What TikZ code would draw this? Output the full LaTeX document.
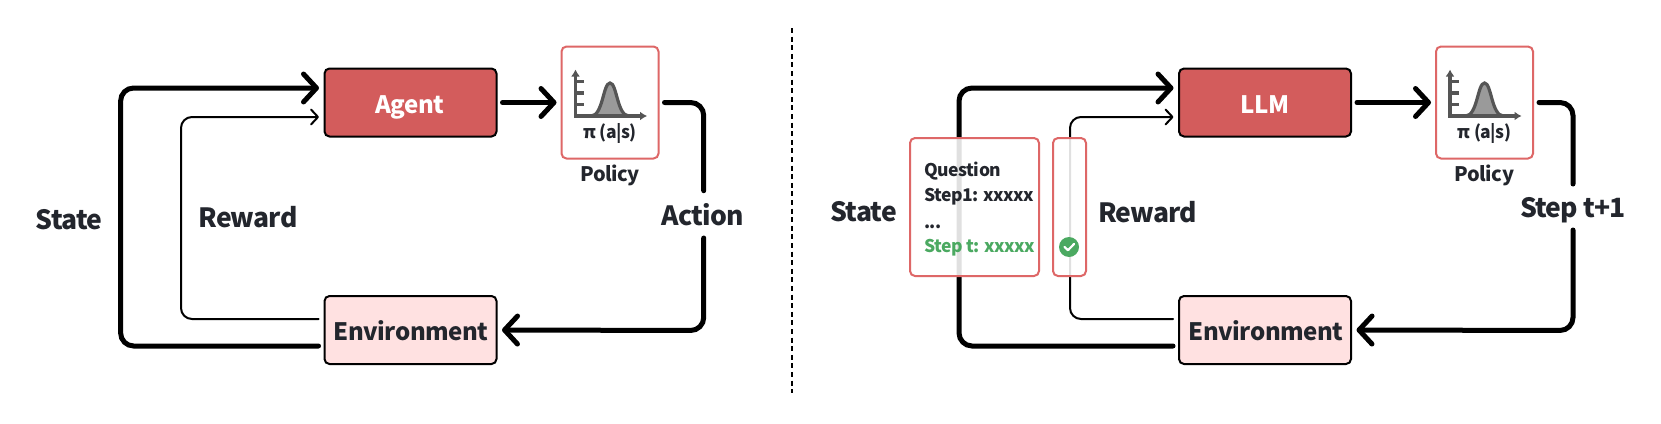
\documentclass[tikz,border=0pt]{standalone}
\usepackage{fontspec}
\setmainfont{Noto Sans CJK SC}
\usetikzlibrary{arrows.meta}
\definecolor{ink}{HTML}{23262D}
\definecolor{redfill}{HTML}{D35C5C}
\definecolor{redline}{HTML}{DE6767}
\definecolor{pinkfill}{HTML}{FFE1E1}
\definecolor{okgreen}{HTML}{4BA961}
\definecolor{iconline}{HTML}{555555}
\definecolor{iconfill}{HTML}{9A9A9A}
\newcommand{\fsz}[2]{\fontsize{#1pt}{#1pt}\selectfont\bfseries\addfontfeature{LetterSpace=#2}}
\tikzset{
  x=1pt,y=-1pt,
  heavy/.style={line width=5pt,line cap=round,black,rounded corners=13pt},
  light/.style={line width=2pt,line cap=round,black,rounded corners=11pt},
  heavyhead/.style={-{Straight Barb[length=13pt,width=28pt,line width=5pt,round]}},
  lighthead/.style={-{Straight Barb[length=7pt,width=15pt,line width=2pt,round]}},
  blockred/.style={draw=black,line width=2pt,rounded corners=5pt,fill=redfill,minimum width=172pt,minimum height=68pt,inner sep=0pt},
  blockpink/.style={draw=black,line width=2pt,rounded corners=5pt,fill=pinkfill,minimum width=172pt,minimum height=68pt,inner sep=0pt},
  polbox/.style={draw=redline,line width=2pt,rounded corners=5pt,fill=white,minimum width=97pt,minimum height=112pt,inner sep=0pt},
  memo/.style={draw=redline,line width=2pt,rounded corners=5pt,fill=white,fill opacity=0.88,inner sep=0pt},
  lab/.style={anchor=base,inner sep=0pt,text=ink,font=\fsz{26.5}{-3}},
  boxtxt/.style={anchor=base,inner sep=0pt,text=ink,font=\fsz{24}{-2}},
  smalllab/.style={anchor=base,inner sep=0pt,text=ink,font=\fsz{20}{-2.5}},
  pilab/.style={anchor=base,inner sep=0pt,text=ink,font=\fsz{17.5}{-2.5}},
  memotxt/.style={anchor=base west,inner sep=0pt,text=ink,font=\fsz{17.5}{-2.5}},
  pics/bell/.style={code={
    \draw[iconline,line width=3.2pt,fill=iconfill] (-19,13.5) .. controls (-7,13.5) and (-7,-19.5) .. (0,-19.5) .. controls (7,-19.5) and (7,13.5) .. (19,13.5);
    \draw[iconline,line width=3.2pt,-{Latex[length=7pt,width=9pt]}] (-34.5,15) -- (-34.5,-33);
    \draw[iconline,line width=3.2pt,-{Latex[length=7pt,width=9pt]}] (-36,13.5) -- (37,13.5);
    \foreach \yy in {-20.8,-9.5,2.2} \draw[iconline,line width=3.2pt] (-34,\yy) -- (-26,\yy);
  }}
}
\begin{document}
\begin{tikzpicture}
\useasboundingbox[fill=white] (0,0) rectangle (1661,423);
% nodes left
\node[blockred] (agent) at (410.5,102.5) {};
\node[boxtxt,text=white] (agentT) at (410,113) {Agent};
\node[blockpink] (envA) at (410.5,330) {};
\node[boxtxt] (envAT) at (411,340.7) {Environment};
\node[polbox] (polA) at (610,102.5) {};
\pic at (610,102.5) {bell};
\node[pilab] (piA) at (610,138) {π (a|s)};
\node[smalllab] (polAT) at (610,181) {Policy};
\node[lab] (stateA) at (69,229.3) {State};
\node[lab] (rewardA) at (248,227.7) {Reward};
\node[lab] (actionA) at (703,225) {Action};
% connectors left
\draw[heavy,heavyhead] ([xshift=-5pt,yshift=-16pt]envA.west) -- (120.6,346) -- (120.6,88) -- ([xshift=-4.5pt,yshift=14.5pt]agent.west);
\draw[light,lighthead] ([xshift=-5pt,yshift=11pt]envA.west) -- (181,319) -- (181,117) -- ([xshift=-4.5pt,yshift=-14.5pt]agent.west);
\draw[heavy,heavyhead] ([xshift=5pt]agent.east) -- ([xshift=-4pt]polA.west);
\draw[heavy] ([xshift=5pt]polA.east) -- (703.7,102.5) -- (703.7,190.7);
\draw[heavy,heavyhead] (703.7,238) -- (703.7,330.5) -- ([xshift=4.5pt]envA.east);
% divider
\coordinate (divT) at (792,28);
\coordinate (divB) at (792,393);
\draw[line width=2pt,black,dash pattern=on 5pt off 3.6pt] (divT) -- (divB);
% nodes right
\node[blockred] (llm) at (1265,102.5) {};
\node[boxtxt,text=white] (llmT) at (1265,113) {LLM};
\node[blockpink] (envB) at (1265,330) {};
\node[boxtxt] (envBT) at (1266,340.7) {Environment};
\node[polbox] (polB) at (1484.5,102.5) {};
\pic at (1484.5,102.5) {bell};
\node[pilab] (piB) at (1484.5,138) {π (a|s)};
\node[smalllab] (polBT) at (1484.5,181) {Policy};
\node[lab] (stateB) at (863.7,221.7) {State};
\node[lab] (rewardB) at (1147.5,222.7) {Reward};
\node[lab] (stepB) at (1573,217.3) {Step t+1};
% connectors right
\draw[heavy,heavyhead] ([xshift=-5pt,yshift=-16pt]envB.west) -- (959,346) -- (959,88) -- ([xshift=-4.5pt,yshift=14.5pt]llm.west);
\draw[light,lighthead] ([xshift=-5pt,yshift=11pt]envB.west) -- (1070,319) -- (1070,117) -- ([xshift=-4.5pt,yshift=-14.5pt]llm.west);
\draw[heavy,heavyhead] ([xshift=5pt]llm.east) -- ([xshift=-4pt]polB.west);
\draw[heavy] ([xshift=5pt]polB.east) -- (1573,102.5) -- (1573,184);
\draw[heavy,heavyhead] (1573,230) -- (1573,330.5) -- ([xshift=4.5pt]envB.east);
% memo boxes
\node[memo,minimum width=129pt,minimum height=138pt] (stateBox) at (974.5,207) {};
\node[memo,minimum width=33pt,minimum height=138pt] (rewardBox) at (1069.5,207) {};
\node[memotxt] (m1) at (924,176) {Question};
\node[memotxt] (m2) at (924,201) {Step1: xxxxx};
\node[memotxt] (m3) at (924,228) {...};
\node[memotxt,text=okgreen] (m4) at (924,252) {Step t: xxxxx};
\node[circle,fill=okgreen,minimum size=20pt,inner sep=0pt] (okdot) at (1069,247) {};
\draw[white,line width=2.2pt,line cap=round,line join=round] ([shift={(-4.5pt,0pt)}]okdot.center) -- ([shift={(-1pt,-3.2pt)}]okdot.center) -- ([shift={(5pt,3pt)}]okdot.center);
\end{tikzpicture}
\end{document}
